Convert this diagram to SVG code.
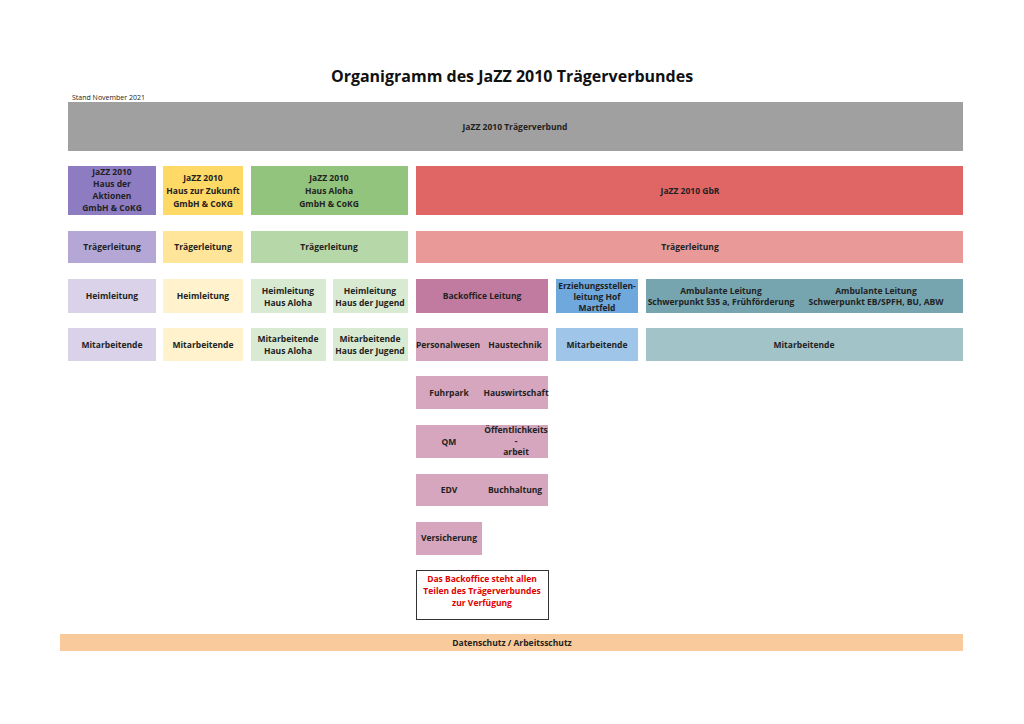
<svg xmlns="http://www.w3.org/2000/svg" width="1024" height="724" viewBox="0 0 1024 724">
<style>
text{font-family:"Open Sans","Liberation Sans",sans-serif;font-weight:bold;font-size:8.5px;fill:#222;text-anchor:middle}
.t{font-size:16px;fill:#111}
.s{font-size:7px;font-weight:normal;text-anchor:start}
.r{fill:#e00000}
</style>
<rect width="1024" height="724" fill="#fff"/>
<text class="t" x="512" y="82">Organigramm des JaZZ 2010 Trägerverbundes</text>
<text class="s" x="72" y="100">Stand November 2021</text>
<g id="top"><rect x="68" y="102" width="895" height="49" fill="#a0a0a0"/><text x="515" y="130">JaZZ 2010 Trägerverbund</text></g>
<g id="c1">
<rect x="68" y="166" width="88" height="49" fill="#8e7cc3"/><text x="112" y="175">JaZZ 2010</text><text x="112" y="187">Haus der</text><text x="112" y="199">Aktionen</text><text x="112" y="211">GmbH &amp; CoKG</text>
<rect x="68" y="231" width="88" height="32" fill="#b4a7d6"/><text x="112" y="250">Trägerleitung</text>
<rect x="68" y="279" width="88" height="34" fill="#d9d2e9"/><text x="112" y="299">Heimleitung</text>
<rect x="68" y="328" width="88" height="33" fill="#d9d2e9"/><text x="112" y="348">Mitarbeitende</text>
</g>
<g id="c2">
<rect x="163" y="166" width="80" height="49" fill="#ffd966"/><text x="203" y="181">JaZZ 2010</text><text x="203" y="194">Haus zur Zukunft</text><text x="203" y="207">GmbH &amp; CoKG</text>
<rect x="163" y="231" width="80" height="32" fill="#ffe599"/><text x="203" y="250">Trägerleitung</text>
<rect x="163" y="279" width="80" height="34" fill="#fff2cc"/><text x="203" y="299">Heimleitung</text>
<rect x="163" y="328" width="80" height="33" fill="#fff2cc"/><text x="203" y="348">Mitarbeitende</text>
</g>
<g id="c3">
<rect x="251" y="166" width="157" height="49" fill="#93c47d"/><text x="329" y="181">JaZZ 2010</text><text x="329" y="194">Haus Aloha</text><text x="329" y="207">GmbH &amp; CoKG</text>
<rect x="251" y="231" width="157" height="32" fill="#b6d7a8"/><text x="329" y="250">Trägerleitung</text>
<rect x="251" y="279" width="75" height="34" fill="#d9ead3"/><text x="288" y="294">Heimleitung</text><text x="288" y="306">Haus Aloha</text>
<rect x="333" y="279" width="75" height="34" fill="#d9ead3"/><text x="370" y="294">Heimleitung</text><text x="370" y="306">Haus der Jugend</text>
<rect x="251" y="328" width="75" height="33" fill="#d9ead3"/><text x="288" y="342">Mitarbeitende</text><text x="288" y="354">Haus Aloha</text>
<rect x="333" y="328" width="75" height="33" fill="#d9ead3"/><text x="370" y="342">Mitarbeitende</text><text x="370" y="354">Haus der Jugend</text>
</g>
<g id="c4">
<rect x="416" y="166" width="547" height="49" fill="#e06666"/><text x="690" y="194">JaZZ 2010 GbR</text>
<rect x="416" y="231" width="547" height="32" fill="#ea9999"/><text x="690" y="250">Trägerleitung</text>
<rect x="416" y="279" width="132" height="34" fill="#c27ba0"/><text x="482" y="299">Backoffice Leitung</text>
<rect x="556" y="279" width="82" height="34" fill="#6fa8dc"/><text x="597" y="289">Erziehungsstellen-</text><text x="597" y="300">leitung Hof</text><text x="597" y="311">Martfeld</text>
<rect x="646" y="279" width="317" height="34" fill="#76a5af"/><text x="721" y="294">Ambulante Leitung</text><text x="721" y="305">Schwerpunkt §35 a, Frühförderung</text><text x="876" y="294">Ambulante Leitung</text><text x="876" y="305">Schwerpunkt EB/SPFH, BU, ABW</text>
<rect x="416" y="328" width="132" height="33" fill="#d5a6bd"/><text x="448" y="348">Personalwesen</text><text x="515" y="348">Haustechnik</text>
<rect x="556" y="328" width="82" height="33" fill="#9fc5e8"/><text x="597" y="348">Mitarbeitende</text>
<rect x="646" y="328" width="317" height="33" fill="#a2c4c9"/><text x="804" y="348">Mitarbeitende</text>
<rect x="416" y="376" width="132" height="33" fill="#d5a6bd"/><text x="449" y="396">Fuhrpark</text><text x="516" y="396">Hauswirtschaft</text>
<rect x="416" y="425" width="132" height="33" fill="#d5a6bd"/><text x="449" y="445">QM</text><text x="516" y="433">Öffentlichkeits</text><text x="516" y="444">-</text><text x="516" y="455">arbeit</text>
<rect x="416" y="474" width="132" height="32" fill="#d5a6bd"/><text x="449" y="493">EDV</text><text x="515" y="493">Buchhaltung</text>
<rect x="416" y="522" width="66" height="33" fill="#d5a6bd"/><text x="449" y="541">Versicherung</text>
<rect x="416.5" y="570.5" width="132" height="49" fill="#fff" stroke="#333"/><text class="r" x="482" y="582">Das Backoffice steht allen</text><text class="r" x="482" y="594">Teilen des Trägerverbundes</text><text class="r" x="482" y="606">zur Verfügung</text>
</g>
<g id="bottom"><rect x="60" y="634" width="903" height="17" fill="#f9cb9c"/><text x="512" y="646">Datenschutz / Arbeitsschutz</text></g>
<g id="connectors"/>
</svg>
